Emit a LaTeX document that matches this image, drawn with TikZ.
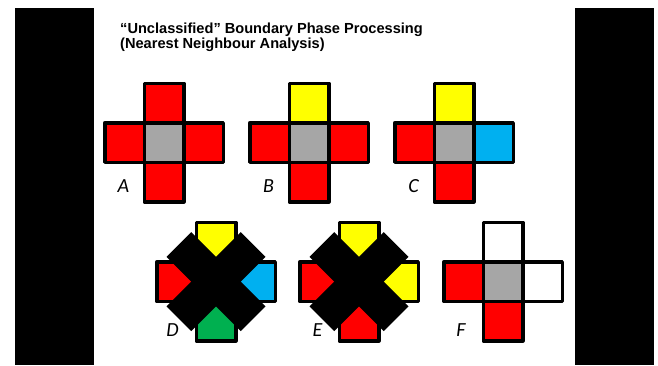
\documentclass[tikz,border=0pt]{standalone}
\usepackage{fontspec}
\setmainfont{Liberation Sans}
\newfontfamily\lblfont{Carlito}
\definecolor{cred}{HTML}{FF0000}
\definecolor{cyel}{HTML}{FFFF00}
\definecolor{cgray}{HTML}{A6A6A6}
\definecolor{ccyan}{HTML}{00B0F0}
\definecolor{cgreen}{HTML}{00B050}
\newcommand{\mkcross}[8]{%
  \node[cell,fill=#8] (#1c) at (#2,#3) {};
  \node[cell,fill=#4] (#1t) at (#2,#3-39.5) {};
  \node[cell,fill=#5] (#1l) at (#2-39.5,#3) {};
  \node[cell,fill=#6] (#1r) at (#2+39.5,#3) {};
  \node[cell,fill=#7] (#1b) at (#2,#3+39.5) {};
}
\begin{document}
\begin{tikzpicture}[x=1pt,y=-1pt,
  cell/.style={draw=black, line width=3.5pt, line join=round, minimum size=39.5pt, inner sep=0pt, outer sep=0pt},
  xarm/.style={fill=black, minimum width=105pt, minimum height=35pt, inner sep=0pt},
  lbl/.style={font=\lblfont\itshape\fontsize{20}{20}\selectfont, inner sep=0pt},
  ttl/.style={font=\bfseries\fontsize{14.6}{16}\selectfont, inner sep=0pt, anchor=base west}]
\useasboundingbox (0,0) rectangle (658,365);
\fill[white] (0,0) rectangle (658,365);
\fill[black] (15,8) rectangle (94,365);
\fill[black] (575,8) rectangle (654,365);
\node[ttl] (t1) at (120,33.5) {“Unclassified” Boundary Phase Processing};
\node[ttl] (t2) at (120,48.5) {(Nearest Neighbour Analysis)};
% row 1
\mkcross{A}{164}{142.5}{cred}{cred}{cred}{cred}{cgray}
\mkcross{B}{309}{142.5}{cyel}{cred}{cred}{cred}{cgray}
\mkcross{C}{454}{142.5}{cyel}{cred}{ccyan}{cred}{cgray}
% row 2
\mkcross{D}{216}{281.7}{cyel}{cred}{ccyan}{cgreen}{cgray}
\mkcross{E}{359}{281.7}{cyel}{cred}{cyel}{cred}{cgray}
\mkcross{F}{503}{281.7}{white}{cred}{white}{cred}{cgray}
\node[xarm, rotate=45] (Dx1) at (Dc) {};
\node[xarm, rotate=-45] (Dx2) at (Dc) {};
\node[xarm, rotate=45] (Ex1) at (Ec) {};
\node[xarm, rotate=-45] (Ex2) at (Ec) {};
% labels
\node[lbl] (Al) at (123.5,186.3) {A};
\node[lbl] (Bl) at (268.5,186.3) {B};
\node[lbl] (Cl) at (413.5,186.3) {C};
\node[lbl] (Dl) at (172.5,330) {D};
\node[lbl] (El) at (317.5,330) {E};
\node[lbl] (Fl) at (461,330) {F};
\end{tikzpicture}
\end{document}
